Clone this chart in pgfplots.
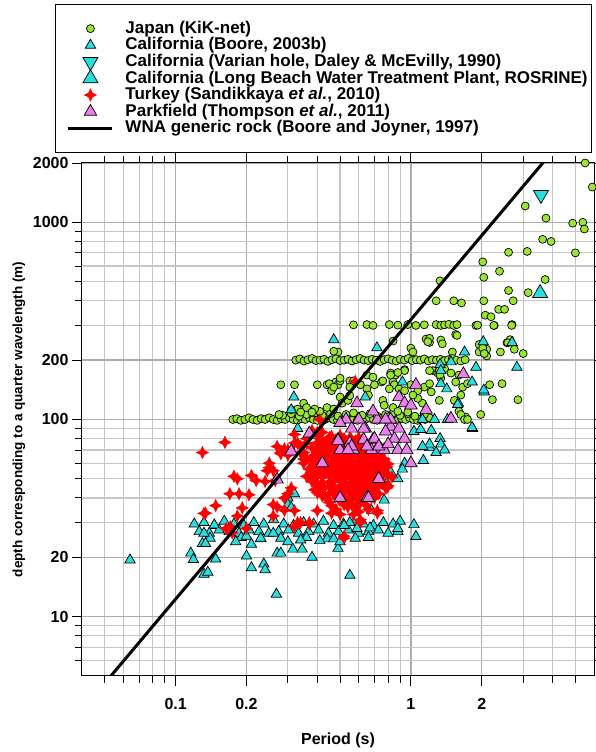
\documentclass[border=0pt]{standalone}
\usepackage{fontspec}
\setmainfont{Liberation Sans}
\usepackage{pgfplots}
\pgfplotsset{compat=1.18}
\definecolor{jgreen}{RGB}{154,230,46}
\definecolor{ccyan}{RGB}{40,222,222}
\definecolor{pviolet}{RGB}{233,128,233}
\pgfdeclareplotmark{sparkle}{%
 \pgfpathmoveto{\pgfqpoint{0pt}{\pgfplotmarksize}}%
 \pgfpathlineto{\pgfqpoint{0.32\pgfplotmarksize}{0.32\pgfplotmarksize}}%
 \pgfpathlineto{\pgfqpoint{\pgfplotmarksize}{0pt}}%
 \pgfpathlineto{\pgfqpoint{0.32\pgfplotmarksize}{-0.32\pgfplotmarksize}}%
 \pgfpathlineto{\pgfqpoint{0pt}{-\pgfplotmarksize}}%
 \pgfpathlineto{\pgfqpoint{-0.32\pgfplotmarksize}{-0.32\pgfplotmarksize}}%
 \pgfpathlineto{\pgfqpoint{-\pgfplotmarksize}{0pt}}%
 \pgfpathlineto{\pgfqpoint{-0.32\pgfplotmarksize}{0.32\pgfplotmarksize}}%
 \pgfpathclose
 \pgfusepathqfill}
\pgfplotsset{
  legimg/.style={legend image code/.code={\pgfpathrectangle{\pgfpoint{0pt}{-4pt}}{\pgfpoint{53pt}{8pt}}\pgfusepath{use as bounding box}\pgfinterruptboundingbox \draw[mark repeat=2,mark phase=2,##1] plot coordinates {(9pt,0pt) (31pt,0pt) (53pt,0pt)}; \endpgfinterruptboundingbox}}
}
\begin{document}
\begin{tikzpicture}
\useasboundingbox (0,0) rectangle (595pt,752pt);
\begin{axis}[
  at={(82pt,76pt)}, anchor=south west,
  scale only axis, width=512pt, height=513pt,
  xmode=log, ymode=log,
  xmin=0.04, xmax=6, ymin=5, ymax=2000,
  xtick={0.1,0.2,1,2}, xticklabels={0.1,0.2,1,2},
  ytick={10,20,100,200,1000,2000}, yticklabels={10,20,100,200,1000,2000},
  minor xtick={0.05,0.06,0.07,0.08,0.09,0.3,0.4,0.5,0.6,0.7,0.8,0.9,3,4,5},
  minor ytick={6,7,8,9,30,40,50,60,70,80,90,300,400,500,600,700,800,900},
  grid=both,
  major grid style={gray!65, line width=1.3pt},
  minor grid style={gray!45, line width=1.2pt},
  tick align=outside,
  major tick length=10pt, minor tick length=7pt,
  every tick/.style={black, line width=0.9pt},
  axis line style={black, line width=1pt},
  tick label style={font=\fontsize{16}{16}\selectfont\bfseries},
  xticklabel style={yshift=-9pt},
  xlabel={Period (s)},
  ylabel={depth corresponding to a quarter wavelength (m)},
  every axis x label/.style={at={(axis description cs:0.5,-0.1248)}, anchor=center, font=\fontsize{16}{16}\selectfont\bfseries},
  every axis y label/.style={at={(axis description cs:-0.123,0.5)}, rotate=90, anchor=center, font=\fontsize{13.5}{13.5}\selectfont\bfseries},
  clip mode=individual,
  legend style={at={(axis description cs:-0.0527,1.310)}, anchor=north west, draw=black, line width=0.9pt,
    font=\fontsize{17}{17}\selectfont\bfseries, inner xsep=4pt, inner ysep=15.9pt, column sep=13pt, row sep=0pt,
    nodes={inner sep=0pt, text height=13pt, text depth=3.6pt}},
  legend cell align=left,
]
\addplot[only marks, mark=*, mark size=4pt, mark options={draw=black, fill=jgreen, line width=0.7pt}, legimg] coordinates {
(5.5,2000) (5.9,1510) (3.06,1210) (3.75,1050) (4.87,990) (5.38,1000) (5.46,925) (3.63,820) (3.94,800) (2.6,705) (3.12,712) (5.0,700) (2.02,630) (2.38,565) (2.04,526) (3.72,513) (1.33,505) (2.6,451) (3.15,440) (1.28,400) (1.52,400) (1.64,390) (2.04,400) (2.72,400) (2.36,362) (2.5,362) (2.07,338) (2.19,332) (2.26,300) (2.69,303) (1.89,300) (1.55,270) (1.16,256) (1.2,246) (1.34,253) (1.36,242) (0.84,250) (1.0,230) (1.95,240) (2.04,224) (2.1,227) (1.95,220) (2.4,220) (2.56,245) (2.64,254) (2.58,245) (2.75,227) (3.0,216) (1.5,220) (2.1,210) (2.16,150) (2.44,152) (2.22,126) (2.85,126) (1.2,258) (1.18,248) (1.02,220) (2.02,230) (2.05,216) (1.57,267) (0.49,220) (0.47,222) (2.25,300)
(0.57,302) (0.65,303) (0.69,300) (0.81,303) (0.88,301) (0.97,303) (1.05,300) (1.14,302) (1.28,303) (1.34,300) (1.39,302) (1.45,304) (1.52,300) (1.57,303) (1.92,301) (2.68,300)
(0.324,200) (0.337,203) (0.351,198) (0.365,201) (0.38,204) (0.395,199) (0.411,200) (0.427,202) (0.444,197) (0.462,201) (0.48,203) (0.5,199) (0.52,200) (0.54,202) (0.562,198) (0.585,201) (0.608,204) (0.632,200) (0.658,199) (0.684,202) (0.711,200) (0.74,197) (0.77,201) (0.8,203) (0.832,200) (0.866,198) (0.9,202) (0.937,200) (0.974,204) (1.013,199) (1.054,201) (1.096,200) (1.14,203) (1.186,198) (1.233,201) (1.283,200) (1.334,202) (1.388,199) (1.443,201) (1.5,204) (1.56,200) (1.63,198) (1.7,201)
(0.175,100) (0.182,101) (0.189,99) (0.197,100) (0.205,102) (0.213,100) (0.222,99) (0.231,101) (0.24,100) (0.25,102) (0.26,100) (0.27,99) (0.281,101) (0.292,100) (0.304,102) (0.316,100) (0.329,99) (0.342,101) (0.355,100) (0.37,102) (0.385,100) (0.4,99) (0.416,101) (0.432,100) (0.45,102) (0.468,100) (0.487,99) (0.506,101) (0.526,100) (0.547,102) (0.569,100) (0.592,99) (0.616,101) (0.64,100) (0.666,102) (0.693,100) (0.72,99) (0.75,101) (0.78,100) (0.81,102) (0.843,100) (0.877,99) (0.912,101) (0.948,100) (0.986,102) (1.025,100) (1.066,99) (1.11,101) (1.15,100) (1.2,102)
(0.285,105) (0.31,107) (0.335,104) (0.36,106) (0.39,108) (0.42,105) (0.455,107) (0.49,104) (0.53,106) (0.57,108) (0.62,105) (0.67,107) (0.72,104) (0.78,106) (0.84,108) (0.9,105) (0.97,107) (1.04,104)
(0.28,150) (0.32,150) (0.40,150) (0.44,150) (0.46,140) (0.48,155) (0.49,150) (0.50,157) (0.55,157) (0.35,121) (0.33,113) (0.36,115) (0.275,106) (0.31,112) (0.34,109) (0.5,130) (0.51,121) (0.54,125) (0.55,132) (0.44,115) (0.47,113) (0.41,110) (0.39,113) (0.38,109)
(0.82,172) (0.86,168) (0.94,179) (0.84,155) (0.85,150) (0.81,143) (0.89,143) (0.94,140) (1.0,150) (1.07,140) (1.14,146) (1.2,152) (1.24,177) (1.3,172) (1.39,181) (1.48,172) (1.6,168) (1.55,155) (1.66,146) (1.74,152) (1.34,162) (1.22,138) (1.32,125) (1.12,121) (1.07,128) (1.02,133) (0.57,157) (0.55,146) (0.61,150) (0.65,143) (0.75,155) (0.70,150) (0.66,133) (0.76,125) (0.77,118) (0.84,115) (0.88,110) (0.80,103) (0.97,109) (1.14,106) (1.6,110) (1.71,103) (1.53,125) (1.63,133) (1.98,106) (1.63,106) (1.69,100) (1.74,100) (0.94,177) (1.2,177) (1.32,177) (1.33,168) (0.45,152) (0.47,146) (0.5,162) (0.65,168) (0.69,164) (0.76,157) (0.82,168) (0.88,173)
};
\addlegendentry{Japan (KiK-net)}
\addplot[only marks, mark=triangle*, mark size=6pt, mark options={draw=black, fill=ccyan, line width=0.7pt}, legimg] coordinates {
(0.12,29.5) (0.132,30) (0.146,29) (0.161,30.5) (0.177,29.5) (0.195,29) (0.215,30) (0.237,29.5) (0.261,31) (0.288,29.5) (0.317,29) (0.35,30) (0.386,29.5) (0.425,30.5) (0.469,29) (0.517,29.5) (0.57,30) (0.628,29.5) (0.693,29) (0.764,30) (0.84,29.5)
(0.126,27) (0.139,26.5) (0.153,27.5) (0.169,27) (0.186,26.5) (0.205,27.5) (0.226,27) (0.249,26.5) (0.274,27) (0.302,27.5) (0.333,26.5) (0.367,27) (0.405,27.5) (0.446,26.5) (0.492,27) (0.543,27.5) (0.598,26.5) (0.66,27) (0.727,27.5) (0.8,26.5) (0.88,27)
(0.14,25) (0.19,25.2) (0.23,24.8) (0.28,25) (0.36,25.2) (0.44,24.8) (0.58,25) (0.66,25.2)
(0.064,19.4) (0.116,21) (0.119,19.5) (0.13,23.5) (0.132,16.4) (0.137,16.8) (0.148,19.6) (0.18,24) (0.2,20.3) (0.21,17.7) (0.237,18.5) (0.24,17.3) (0.268,13) (0.27,21) (0.3,24) (0.315,22) (0.34,24.5) (0.345,22) (0.38,20) (0.41,24.3) (0.47,24.8) (0.49,22.2) (0.5,24) (0.55,16.2) (0.2,25.6) (0.21,23.3) (0.23,25) (0.26,26.5) (0.28,21) (0.132,26.5) (0.146,29.2) (0.134,23.5)
(0.32,42) (0.30,40) (0.30,37) (0.31,35.7) (0.318,130) (0.31,112) (0.33,90) (0.47,254) (0.717,231) (2.03,248) (1.69,220) (1.48,196) (1.33,190) (1.89,184) (0.92,155) (1.34,152) (1.42,143) (1.82,155) (2.05,138) (1.59,121) (1.26,100) (1.12,100) (1.83,90) (1.33,80) (1.2,72) (1.03,87) (1.1,89) (0.64,130) (1.2,75) (1.12,73) (1.34,75) (1.28,68) (1.39,70) (1.13,62) (0.94,60) (0.92,56) (0.82,54) (0.76,56) (0.88,50) (0.79,47.6) (0.77,39) (0.68,34.6) (0.9,30.5) (0.88,28) (1.03,29.3) (1.05,25.5) (0.67,28.2) (0.59,28) (0.55,30) (0.52,29) (2.69,246) (2.82,184) (2.04,141) (1.58,119) (1.82,91) (1.34,177) (1.22,88) (1.43,100) (0.6,100) (0.72,100)
};
\addlegendentry{California (Boore, 2003b)}
\addplot[only marks, mark=triangle*, mark size=8.7pt, mark options={draw=black, fill=ccyan, line width=0.7pt, rotate=180}, legimg] coordinates {(3.57,1380)};
\addlegendentry{California (Varian hole, Daley \& McEvilly, 1990)}
\addplot[only marks, mark=triangle*, mark size=8.7pt, mark options={draw=black, fill=ccyan, line width=0.7pt}, legimg] coordinates {(3.54,437)};
\addlegendentry{California (Long Beach Water Treatment Plant, ROSRINE)}
\addplot[only marks, mark=sparkle, mark size=6.8pt, mark options={fill=red, draw=none}, legimg] coordinates {
(0.162,76.6) (0.13,68) (0.177,51.5) (0.183,50) (0.21,52) (0.22,49) (0.17,42) (0.186,42) (0.205,41.5) (0.148,36.6) (0.132,33.4) (0.192,35.6) (0.183,32.4) (0.171,28.6) (0.174,26.6) (0.2,28) (0.25,60) (0.26,55) (0.245,55) (0.24,48.5) (0.265,49) (0.29,71) (0.28,68) (0.30,70) (0.32,84) (0.33,76) (0.26,37) (0.27,36) (0.29,34.6) (0.25,57) (0.134,33.5) (0.164,28) (0.32,34.5) (0.30,42) (0.31,45) (0.29,40) (0.33,30) (0.37,29.5) (0.52,25.6) (0.34,68) (0.35,63) (0.28,67) (0.3,66) (0.41,100) (0.40,86) (0.46,82) (0.5,80) (0.54,76) (0.32,76) (0.34,73) (0.27,73) (0.58,156) (0.61,57) (0.70,59) (0.75,54) (0.78,45) (0.7,40) (0.72,34.5) (0.61,31) (0.61,30) (0.66,35) (0.72,33.5) (0.79,45) (0.68,44) (0.52,25) (0.37,30) (0.34,30) (0.40,34.5) (0.46,33.5) (0.26,32.4) (0.32,28.6)
(0.46,82) (0.5,83) (0.55,81)
(0.44,78) (0.48,79) (0.53,77) (0.58,78) (0.62,79)
(0.42,74) (0.47,75) (0.51,73) (0.56,74) (0.6,75) (0.65,73)
(0.40,70) (0.45,71) (0.49,69) (0.54,70) (0.59,71) (0.63,69) (0.68,70)
(0.39,66) (0.43,67) (0.47,65) (0.52,66) (0.57,67) (0.61,65) (0.66,66) (0.71,67)
(0.38,62) (0.42,63) (0.46,61) (0.5,62) (0.55,63) (0.6,61) (0.64,62) (0.69,63) (0.74,61)
(0.4,59) (0.44,60) (0.48,58) (0.53,59) (0.58,60) (0.62,58) (0.67,59) (0.72,60) (0.78,58)
(0.37,56) (0.42,57) (0.46,55) (0.51,56) (0.56,57) (0.6,55) (0.65,56) (0.7,57) (0.76,55)
(0.39,53) (0.44,54) (0.49,52) (0.54,53) (0.59,54) (0.63,52) (0.68,53) (0.74,54) (0.8,52)
(0.38,50) (0.42,51) (0.47,49) (0.52,50) (0.57,51) (0.62,49) (0.66,50) (0.72,51)
(0.4,47) (0.45,48) (0.5,46) (0.55,47) (0.6,48) (0.65,46) (0.7,47) (0.76,48)
(0.39,44) (0.43,45) (0.48,43) (0.53,44) (0.58,45) (0.63,43) (0.69,44)
(0.42,41) (0.47,42) (0.52,40) (0.57,41) (0.62,42) (0.68,40)
(0.45,38) (0.5,39) (0.56,37) (0.61,38)
(0.48,35) (0.54,36) (0.6,34)
(0.38,88) (0.42,86) (0.36,80)
(0.41,80) (0.45,81) (0.52,80) (0.56,79) (0.6,81)
(0.4,76) (0.445,76) (0.49,77) (0.54,76) (0.59,76) (0.64,77) (0.36,76)
(0.38,72) (0.43,73) (0.47,72) (0.52,71) (0.57,72) (0.61,73) (0.66,72) (0.71,71)
(0.35,68) (0.41,68) (0.45,69) (0.5,68) (0.55,67) (0.59,68) (0.64,69) (0.69,68) (0.74,67)
(0.36,64) (0.4,64) (0.44,65) (0.48,64) (0.53,64) (0.57,65) (0.62,64) (0.67,65) (0.72,64) (0.77,63)
(0.35,60) (0.42,60.5) (0.46,59.5) (0.51,61) (0.56,60) (0.6,60.5) (0.65,61) (0.7,60) (0.75,60.5) (0.8,59.5)
(0.38,57.5) (0.44,57) (0.49,58) (0.54,57.5) (0.58,57) (0.63,58) (0.68,57.5) (0.73,57) (0.79,57.5)
(0.4,54.5) (0.42,54) (0.47,54.5) (0.51,55) (0.57,54.5) (0.61,54) (0.66,55) (0.71,54.5) (0.77,54)
(0.36,51.5) (0.4,51.5) (0.45,52) (0.5,51) (0.55,51.5) (0.6,52) (0.64,51) (0.69,51.5) (0.75,52) (0.83,51)
(0.38,48.5) (0.42,48) (0.47,48.5) (0.52,48) (0.58,48.5) (0.62,48) (0.68,48.5) (0.73,48)
(0.41,45.5) (0.46,46) (0.51,45) (0.56,45.5) (0.61,46) (0.66,45) (0.72,45.5) (0.8,46)
(0.4,42.5) (0.45,42) (0.5,42.5) (0.55,43) (0.6,42) (0.66,42.5) (0.73,42)
(0.44,39.5) (0.49,40) (0.54,39) (0.59,39.5) (0.65,40)
(0.46,36.5) (0.52,37) (0.58,36) (0.64,37)
(0.5,33) (0.57,33)
};
\addlegendentry{Turkey (Sandikkaya \textit{et al.}, 2010)}
\addplot[only marks, mark=triangle*, mark size=7.2pt, mark options={draw=black, fill=pviolet, line width=0.7pt}, legimg] coordinates {
(0.42,60) (0.5,40) (0.65,40) (0.73,50) (0.27,49.6) (0.31,69) (0.37,85) (0.59,121) (0.53,100) (0.56,90) (0.64,90) (0.72,100) (0.82,92) (0.49,79) (0.55,76) (0.63,79) (0.69,79) (0.75,70) (0.85,80) (0.5,70) (0.57,70) (0.68,70) (0.77,70) (1.05,150) (1.67,170) (0.89,130) (0.69,110) (0.94,121) (1.0,118) (1.16,112) (1.48,101) (0.82,100) (0.63,90) (0.89,90) (0.94,80) (0.70,80) (0.78,87) (0.5,96) (0.56,73) (0.65,73) (0.73,73) (0.8,75) (0.88,70) (0.96,70) (1.0,60) (0.66,40) (0.6,100) (0.78,100) (0.49,78) (0.54,70)
};
\addlegendentry{Parkfield (Thompson \textit{et al.}, 2011)}
\addplot[black, line width=3pt, legimg] coordinates {(0.04,3.35) (4,2292)};
\addlegendentry{WNA generic rock (Boore and Joyner, 1997)}
\end{axis}
\end{tikzpicture}
\end{document}
